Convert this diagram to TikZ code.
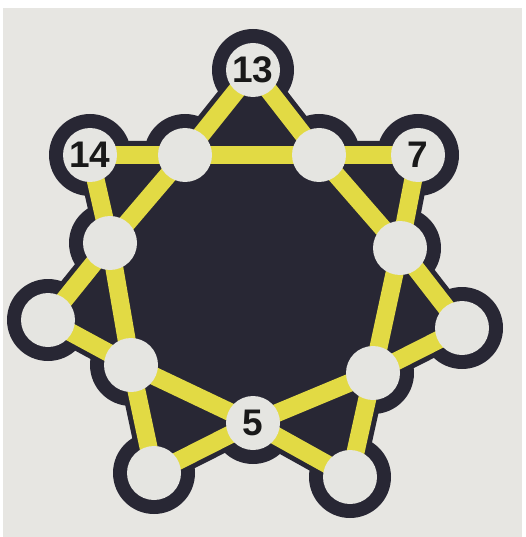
\documentclass[tikz,border=0pt]{standalone}
\usepackage{fontspec}
\setmainfont{Liberation Sans}
\usetikzlibrary{backgrounds}

\definecolor{paper}{HTML}{E7E6E2}
\definecolor{ink}{HTML}{282734}
\definecolor{stripe}{HTML}{E2DA44}
\definecolor{spotfill}{HTML}{E5E5E1}

\begin{document}
\begin{tikzpicture}[
    x=1pt, y=-1pt,
    spot/.style={circle, fill=spotfill, minimum size=54pt, inner sep=0pt,
        font=\fontsize{37}{37}\selectfont\bfseries, text=black!90},
    stripe/.style={draw=stripe, line width=18pt},
    rim/.style={draw=ink, line width=28pt, line join=round, line cap=round}
]
\useasboundingbox (0,0) rectangle (526,537);

% outer points of the star
\node[spot] (top)  at (253,70)  {13};
\node[spot] (ul)   at (90,155)  {14};
\node[spot] (ur)   at (418,155) {7};
\node[spot] (fl)   at (48,320)  {};
\node[spot] (fr)   at (462,328) {};
\node[spot] (bl)   at (154,473) {};
\node[spot] (br)   at (350,477) {};
% inner crossings
\node[spot] (itl)  at (185,155) {};
\node[spot] (itr)  at (319,155) {};
\node[spot] (ml)   at (110,243) {};
\node[spot] (mr)   at (400,248) {};
\node[spot] (ll)   at (131,365) {};
\node[spot] (lr)   at (373,373) {};
\node[spot] (bot)  at (253,423) {5};

\begin{pgfonlayer}{background}
\fill[white] (0,0) rectangle (526,537);
\fill[paper] (3,8) rectangle (522,537);

% dark star
\fill[ink] (top.center) -- (itr.center) -- (ur.center) -- (mr.center) -- (fr.center)
    -- (lr.center) -- (br.center) -- (bot.center) -- (bl.center) -- (ll.center)
    -- (fl.center) -- (ml.center) -- (ul.center) -- (itl.center) -- cycle;
\draw[rim] (top.center) -- (itr.center) -- (ur.center) -- (mr.center) -- (fr.center)
    -- (lr.center) -- (br.center) -- (bot.center) -- (bl.center) -- (ll.center)
    -- (fl.center) -- (ml.center) -- (ul.center) -- (itl.center) -- cycle;
\foreach \n in {top,ul,ur,fl,fr,bl,br,itl,itr,ml,mr,ll,lr,bot}
    \fill[ink] (\n) circle (41pt);

% yellow lines
\draw[stripe] (ul.center) -- (itl.center) -- (itr.center) -- (ur.center);
\draw[stripe] (top.center) -- (itl.center) -- (ml.center) -- (fl.center);
\draw[stripe] (top.center) -- (itr.center) -- (mr.center) -- (fr.center);
\draw[stripe] (ul.center) -- (ml.center) -- (ll.center) -- (bl.center);
\draw[stripe] (ur.center) -- (mr.center) -- (lr.center) -- (br.center);
\draw[stripe] (fl.center) -- (ll.center) -- (bot.center) -- (br.center);
\draw[stripe] (fr.center) -- (lr.center) -- (bot.center) -- (bl.center);
\end{pgfonlayer}

\end{tikzpicture}
\end{document}
